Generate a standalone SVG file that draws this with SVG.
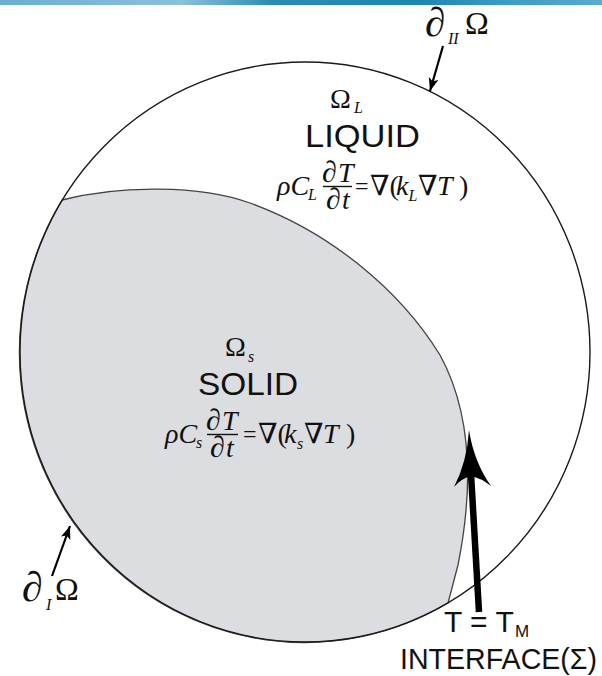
<svg xmlns="http://www.w3.org/2000/svg" width="602" height="676" viewBox="0 0 602 676">
<defs>
<linearGradient id="band" x1="0" y1="0" x2="1" y2="0">
<stop offset="0" stop-color="#6aaed0"/>
<stop offset="0.3" stop-color="#8cc0dc"/>
<stop offset="0.45" stop-color="#2a8cb6"/>
<stop offset="0.7" stop-color="#1e86b2"/>
<stop offset="0.85" stop-color="#3d9cc8"/>
<stop offset="1" stop-color="#5aaad2"/>
</linearGradient>
<marker id="ah" markerUnits="userSpaceOnUse" markerWidth="14" markerHeight="12" refX="13" refY="5" orient="auto">
<path d="M0,0 L13,5 L0,10 L3,5 Z" fill="#000"/>
</marker>
<style>
.serif{font-family:"Liberation Serif","DejaVu Serif",serif;fill:#111}
.it{font-style:italic}
.eq{font-size:28px}
.d{font-size:30px;font-style:italic}
.sub{font-size:16px;font-style:italic}
.sans{font-family:"Liberation Sans",Arial,sans-serif;fill:#111}
.bd{fill:none;stroke:#1a1a1a;stroke-width:1.4}
.ptr{stroke:#000;stroke-width:2.2;fill:none}
.bar{stroke:#111;stroke-width:1.4}
</style>
</defs>
<rect x="0" y="0" width="602" height="5" fill="url(#band)"/>

<g id="solid-region">
<path d="M 62 200 C 120 185, 200 185, 250 203 C 330 232, 400 290, 440 355 C 470 410, 475 480, 458 565 L 448 603 A 285 290 0 0 1 62 200 Z" fill="#dcdde1" stroke="#444" stroke-width="1.3"/>
</g>
<g id="domain-boundary">
<ellipse cx="305" cy="352" rx="285" ry="290" class="bd"/>
</g>

<g id="liquid">
<text class="serif" x="330" y="108" font-size="28">Ω<tspan class="sub" x="354" y="113">L</tspan></text>
<text class="sans" x="305" y="147" font-size="31" textLength="115" lengthAdjust="spacingAndGlyphs">LIQUID</text>
<text class="serif" x="322" y="182"><tspan class="d">∂</tspan><tspan class="it eq" x="338" y="182">T</tspan></text>
<line class="bar" x1="323" y1="186.5" x2="352" y2="186.5"/>
<text class="serif" x="326" y="209"><tspan class="d">∂</tspan><tspan class="it eq" x="342" y="209">t</tspan></text>
<text class="serif eq" x="277" y="195"><tspan class="it">ρC</tspan><tspan class="sub" x="308" y="200">L</tspan><tspan x="355" y="194" font-size="24">=</tspan><tspan x="370" y="195">∇(</tspan><tspan class="it" x="396" y="195">k</tspan><tspan class="sub" x="408.5" y="201">L</tspan><tspan x="418" y="195">∇</tspan><tspan class="it" x="437" y="195">T</tspan><tspan x="459" y="195">)</tspan></text>
</g>

<g id="solid">
<text class="serif" x="225" y="356" font-size="28">Ω<tspan class="sub" x="248" y="362">s</tspan></text>
<text class="sans" x="198" y="395" font-size="31" textLength="100" lengthAdjust="spacingAndGlyphs">SOLID</text>
<text class="serif" x="206" y="430"><tspan class="d">∂</tspan><tspan class="it eq" x="222" y="430">T</tspan></text>
<line class="bar" x1="207" y1="434.5" x2="238" y2="434.5"/>
<text class="serif" x="210" y="457"><tspan class="d">∂</tspan><tspan class="it eq" x="226" y="457">t</tspan></text>
<text class="serif eq" x="165" y="443"><tspan class="it">ρC</tspan><tspan class="sub" x="196" y="448">s</tspan><tspan x="243" y="442" font-size="24">=</tspan><tspan x="258" y="443">∇(</tspan><tspan class="it" x="284" y="443">k</tspan><tspan class="sub" x="297" y="449">s</tspan><tspan x="304" y="443">∇</tspan><tspan class="it" x="323" y="443">T</tspan><tspan x="346" y="443">)</tspan></text>
</g>

<g id="boundary-II">
<text class="serif" x="425" y="36"><tspan class="it" font-size="41">∂</tspan><tspan class="sub" x="448" y="44" font-size="18">II</tspan><tspan x="465" y="34" font-size="32">Ω</tspan></text>
</g>

<g id="boundary-I">
<text class="serif" x="22" y="601"><tspan class="it" font-size="42">∂</tspan><tspan class="sub" x="46" y="610" font-size="18">I</tspan><tspan x="55" y="600" font-size="32">Ω</tspan></text>
</g>

<g id="interface">
<text class="sans" x="444" y="632" font-size="30">T = T<tspan x="515" y="637" font-size="17">M</tspan></text>
<text class="sans" x="400" y="669" font-size="29" textLength="197" lengthAdjust="spacingAndGlyphs">INTERFACE(Σ)</text>
</g>

<g id="connectors">
<line class="ptr" x1="443" y1="46" x2="430" y2="91" marker-end="url(#ah)"/>
<line class="ptr" x1="52" y1="576" x2="70" y2="526" marker-end="url(#ah)"/>
<line x1="471" y1="474" x2="479" y2="612" stroke="#000" stroke-width="6.5"/>
<path d="M469,430 Q467,462 454,487 Q462,478 471,476 Q481,478 491,486 Q474,462 469,430 Z" fill="#000"/>
</g>
</svg>
